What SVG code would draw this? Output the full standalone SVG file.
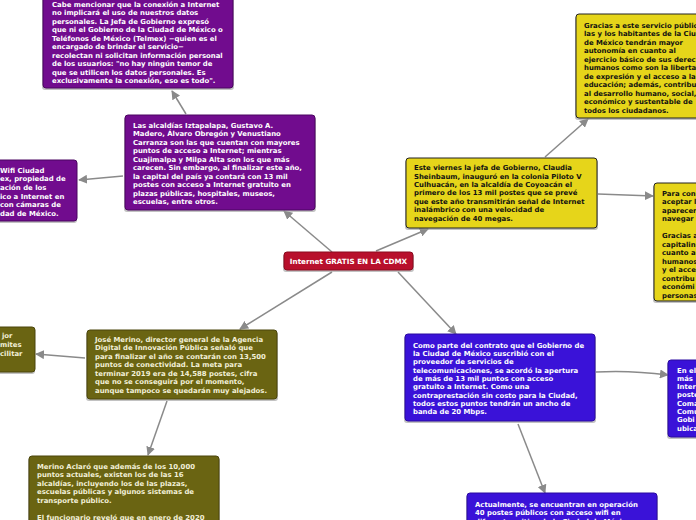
<svg xmlns="http://www.w3.org/2000/svg" width="696" height="520" viewBox="0 0 696 520">
<defs>
<marker id="arr" viewBox="0 0 10 10" refX="9" refY="5" markerWidth="9" markerHeight="9" orient="auto" markerUnits="userSpaceOnUse">
<path d="M0,0 L10,5 L0,10 z" fill="#8a8a8a"/>
</marker>
</defs>
<style>
text{font-family:"DejaVu Sans",Verdana,sans-serif;font-weight:bold;font-size:6.9px}
.sh{fill:#9a9a9a;opacity:0.6}
.pu{fill:#710c8e;stroke:#4a0560;stroke-width:1}
.ye{fill:#e6d51a;stroke:#222;stroke-width:1}
.ol{fill:#6a6412;stroke:#4a450a;stroke-width:1}
.bl{fill:#3a12d8;stroke:#2a0aa0;stroke-width:1}
.rd{fill:#b8102c;stroke:#8a0a1e;stroke-width:1}
.c{stroke:#8a8a8a;stroke-width:1.5;fill:none;marker-end:url(#arr)}
</style>
<rect width="696" height="520" fill="#ffffff"/>
<g id="connectors">
<line class="c" x1="332" y1="252" x2="284" y2="211"/>
<line class="c" x1="186" y1="114" x2="172" y2="91"/>
<line class="c" x1="123" y1="176" x2="79" y2="180"/>
<line class="c" x1="376" y1="251" x2="428" y2="229"/>
<line class="c" x1="545" y1="157" x2="588" y2="119"/>
<line class="c" x1="598" y1="194" x2="653" y2="196"/>
<line class="c" x1="332" y1="272" x2="240" y2="329"/>
<line class="c" x1="85" y1="358" x2="36" y2="354"/>
<line class="c" x1="167" y1="401" x2="148" y2="455"/>
<line class="c" x1="398" y1="272" x2="456" y2="334"/>
<path class="c" d="M596,372 Q630,370 668,375"/>
<line class="c" x1="518" y1="424" x2="545" y2="493"/>
</g>
<g id="center">
<rect class="sh" x="283" y="254" width="131" height="18" rx="3"/>
<rect class="rd" x="284" y="252" width="129" height="18" rx="3"/>
<text x="348.5" y="264" text-anchor="middle" fill="#fff" style="font-size:7.2px">Internet GRATIS EN LA CDMX</text>
</g>
<g id="n1">
<rect class="sh" x="42" y="-6" width="192" height="96" rx="3"/>
<rect class="pu" x="43" y="-8" width="190" height="96" rx="3"/>
<g fill="#fff">
<text x="52" y="6.5">Cabe mencionar que la conexión a Internet</text>
<text x="52" y="15">no implicará el uso de nuestros datos</text>
<text x="52" y="23.5">personales. La Jefa de Gobierno expresó</text>
<text x="52" y="32">que ni el Gobierno de la Ciudad de México o</text>
<text x="52" y="40.5">Teléfonos de México (Telmex) −quien es el</text>
<text x="52" y="49">encargado de brindar el servicio−</text>
<text x="52" y="57.5">recolectan ni solicitan información personal</text>
<text x="52" y="66">de los usuarios: "no hay ningún temor de</text>
<text x="52" y="74.5">que se utilicen los datos personales. Es</text>
<text x="52" y="83">exclusivamente la conexión, eso es todo".</text>
</g>
</g>
<g id="n2">
<rect class="sh" x="124" y="117" width="192" height="95" rx="3"/>
<rect class="pu" x="125" y="115" width="190" height="95" rx="3"/>
<g fill="#fff">
<text x="133" y="127.8">Las alcaldías Iztapalapa, Gustavo A.</text>
<text x="133" y="136.3">Madero, Álvaro Obregón y Venustiano</text>
<text x="133" y="144.8">Carranza son las que cuentan con mayores</text>
<text x="133" y="153.3">puntos de acceso a Internet; mientras</text>
<text x="133" y="161.8">Cuajimalpa y Milpa Alta son los que más</text>
<text x="133" y="170.3">carecen. Sin embargo, al finalizar este año,</text>
<text x="133" y="178.8">la capital del país ya contará con 13 mil</text>
<text x="133" y="187.3">postes con acceso a Internet gratuito en</text>
<text x="133" y="195.8">plazas públicas, hospitales, museos,</text>
<text x="133" y="204.3">escuelas, entre otros.</text>
</g>
</g>
<g id="n3">
<rect class="sh" x="-10" y="162" width="87" height="61" rx="3"/>
<rect class="pu" x="-10" y="160" width="87" height="61" rx="3"/>
<g fill="#fff">
<text x="0" y="172.5">Wifi Ciudad</text>
<text x="0" y="181.2">ex, propiedad de</text>
<text x="0" y="189.9">ación de los</text>
<text x="0" y="198.5">ico a Internet en</text>
<text x="0" y="207">con cámaras de</text>
<text x="0" y="215.7">dad de México.</text>
</g>
</g>
<g id="n4">
<rect class="sh" x="575" y="16" width="130" height="104" rx="3"/>
<rect class="ye" x="576" y="14" width="130" height="104" rx="3"/>
<g fill="#111">
<text x="584" y="27.5">Gracias a este servicio público</text>
<text x="584" y="36">las y los habitantes de la Ciudad</text>
<text x="584" y="44.5">de México tendrán mayor</text>
<text x="584" y="53">autonomía en cuanto al</text>
<text x="584" y="61.5">ejercicio básico de sus derechos</text>
<text x="584" y="70">humanos como son la libertad</text>
<text x="584" y="78.5">de expresión y el acceso a la</text>
<text x="584" y="87">educación; además, contribuye</text>
<text x="584" y="95.5">al desarrollo humano, social,</text>
<text x="584" y="104">económico y sustentable de</text>
<text x="584" y="112.5">todos los ciudadanos.</text>
</g>
</g>
<g id="n5">
<rect class="sh" x="405" y="160" width="193" height="70" rx="3"/>
<rect class="ye" x="406" y="158" width="191" height="70" rx="3"/>
<g fill="#111">
<text x="414" y="170.2">Este viernes la jefa de Gobierno, Claudia</text>
<text x="414" y="178.6">Sheinbaum, inauguró en la colonia Piloto V</text>
<text x="414" y="187">Culhuacán, en la alcaldía de Coyoacán el</text>
<text x="414" y="195.4">primero de los 13 mil postes que se prevé</text>
<text x="414" y="203.8">que este año transmitirán señal de Internet</text>
<text x="414" y="212.2">inalámbrico con una velocidad de</text>
<text x="414" y="220.6">navegación de 40 megas.</text>
</g>
</g>
<g id="n6">
<rect class="sh" x="653" y="185" width="60" height="118" rx="3"/>
<rect class="ye" x="654" y="183" width="60" height="118" rx="3"/>
<g fill="#111">
<text x="662" y="195.5">Para con</text>
<text x="662" y="204">aceptar l</text>
<text x="662" y="212.5">aparecer</text>
<text x="662" y="221">navegar</text>
<text x="662" y="238">Gracias a</text>
<text x="662" y="246.5">capitalin</text>
<text x="662" y="255">cuanto a</text>
<text x="662" y="263.5">humanos</text>
<text x="662" y="272">y el acce</text>
<text x="662" y="280.5">contribu</text>
<text x="662" y="289">económi</text>
<text x="662" y="297.5">personas</text>
</g>
</g>
<g id="n7">
<rect class="sh" x="-10" y="329" width="45" height="45" rx="3"/>
<rect class="ol" x="-10" y="327" width="45" height="45" rx="3"/>
<g fill="#f2f0d8">
<text x="2" y="337.5">jor</text>
<text x="0" y="346.5">mites</text>
<text x="0" y="355.5">cilitar</text>
</g>
</g>
<g id="n8">
<rect class="sh" x="86" y="332" width="192" height="69" rx="3"/>
<rect class="ol" x="87" y="330" width="190" height="69" rx="3"/>
<g fill="#f2f0d8">
<text x="95" y="341.8">José Merino, director general de la Agencia</text>
<text x="95" y="350.3">Digital de Innovación Pública señaló que</text>
<text x="95" y="358.8">para finalizar el año se contarán con 13,500</text>
<text x="95" y="367.3">puntos de conectividad. La meta para</text>
<text x="95" y="375.8">terminar 2019 era de 14,588 postes, cifra</text>
<text x="95" y="384.3">que no se conseguirá por el momento,</text>
<text x="95" y="392.8">aunque tampoco se quedarán muy alejados.</text>
</g>
</g>
<g id="n9">
<rect class="sh" x="28" y="458" width="192" height="70" rx="3"/>
<rect class="ol" x="29" y="456" width="190" height="70" rx="3"/>
<g fill="#f2f0d8">
<text x="37" y="468.5">Merino Aclaró que además de los 10,000</text>
<text x="37" y="477">puntos actuales, existen los de las 16</text>
<text x="37" y="485.5">alcaldías, incluyendo los de las plazas,</text>
<text x="37" y="494">escuelas públicas y algunos sistemas de</text>
<text x="37" y="502.5">transporte público.</text>
<text x="37" y="519.5">El funcionario reveló que en enero de 2020</text>
</g>
</g>
<g id="n10">
<rect class="sh" x="404" y="336" width="192" height="87" rx="3"/>
<rect class="bl" x="405" y="334" width="190" height="87" rx="3"/>
<g fill="#fff">
<text x="413" y="347.5">Como parte del contrato que el Gobierno de</text>
<text x="413" y="355.8">la Ciudad de México suscribió con el</text>
<text x="413" y="364.2">proveedor de servicios de</text>
<text x="413" y="372.5">telecomunicaciones, se acordó la apertura</text>
<text x="413" y="380.8">de más de 13 mil puntos con acceso</text>
<text x="413" y="389.2">gratuito a Internet. Como una</text>
<text x="413" y="397.5">contraprestación sin costo para la Ciudad,</text>
<text x="413" y="405.8">todos estos puntos tendrán un ancho de</text>
<text x="413" y="414.2">banda de 20 Mbps.</text>
</g>
</g>
<g id="n11">
<rect class="sh" x="667" y="362" width="40" height="77" rx="3"/>
<rect class="bl" x="668" y="360" width="40" height="77" rx="3"/>
<g fill="#fff">
<text x="677" y="372.5">En el</text>
<text x="677" y="380.8">más</text>
<text x="677" y="389.1">Intern</text>
<text x="677" y="397.4">poste</text>
<text x="677" y="405.7">Coma</text>
<text x="677" y="414">Comu</text>
<text x="677" y="422.3">Gobi</text>
<text x="677" y="430.6">ubica</text>
</g>
</g>
<g id="n12">
<rect class="sh" x="466" y="495" width="192" height="40" rx="3"/>
<rect class="bl" x="467" y="493" width="190" height="40" rx="3"/>
<g fill="#fff">
<text x="475" y="506.5">Actualmente, se encuentran en operación</text>
<text x="475" y="515">40 postes públicos con acceso wifi en</text>
<text x="475" y="523.5">diferentes sitios de la Ciudad de México</text>
</g>
</g>
</svg>
